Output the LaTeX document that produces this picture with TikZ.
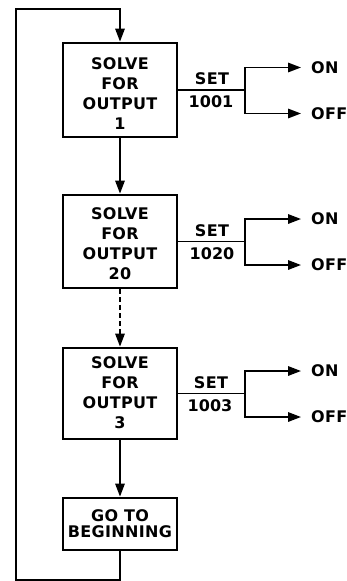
\documentclass[tikz,border=0pt]{standalone}
\usepackage{fontspec}
\setmainfont{DejaVu Sans Bold}[LetterSpace=2]
\newfontfamily\numfont{DejaVu Sans Bold}[LetterSpace=0]
\usetikzlibrary{arrows.meta}
\begin{document}
\begin{tikzpicture}[x=1pt,y=-1pt,
  every node/.style={font=\fontsize{16}{20}\selectfont},
  blockbox/.style={draw,line width=2.8pt,minimum width=114pt,inner sep=0pt},
  boxtext/.style={align=center,inner sep=0pt},
  conn/.style={line width=1.6pt},
  arr/.style={conn,-{Triangle[length=13pt,width=9.5pt]}},
  lbl/.style={inner sep=0pt},
  numlbl/.style={inner sep=0pt,font=\fontsize{16}{20}\numfont},
  outlbl/.style={lbl,anchor=west,inner xsep=10pt,inner ysep=0pt}
]
\useasboundingbox (0,0) rectangle (346,581);

% blocks
\node[blockbox,minimum height=94pt] (b1) at (120,90) {};
\node[blockbox,minimum height=93pt] (b2) at (120,241.5) {};
\node[blockbox,minimum height=91pt] (b3) at (120,393.5) {};
\node[blockbox,minimum height=52pt] (b4) at (120,524) {};

% block texts
\node[boxtext] (t1) at (120,94) {SOLVE\\FOR\\OUTPUT\\1};
\node[boxtext] (t2) at (120,244) {SOLVE\\FOR\\OUTPUT\\20};
\node[boxtext] (t3) at (120,392.5) {SOLVE\\FOR\\OUTPUT\\3};
\node[boxtext,font=\fontsize{16}{16.7}\selectfont] (t4) at (120,523.7) {GO TO\\BEGINNING};

% set labels
\node[lbl] (s1) at (212,79) {SET};
\node[numlbl] (n1) at (211,101.5) {1001};
\node[lbl] (s2) at (212,231) {SET};
\node[numlbl] (n2) at (212,253.5) {1020};
\node[lbl] (s3) at (211,383) {SET};
\node[numlbl] (n3) at (210,405.5) {1003};

% branch column
\coordinate (kx) at (245,0);

% outputs
\node[outlbl] (on1) at (301,67.5) {ON};
\node[outlbl] (off1) at (301,113.5) {OFF};
\node[outlbl] (on2) at (301,219) {ON};
\node[outlbl] (off2) at (301,265) {OFF};
\node[outlbl] (on3) at (301,371) {ON};
\node[outlbl] (off3) at (301,417) {OFF};

% set lines and branches
\foreach \i in {1,2,3}{
  \coordinate (k\i) at (b\i.east -| kx);
  \draw[conn] (b\i.east) -- (k\i);
  \draw[arr] (k\i) |- (on\i.west);
  \draw[arr] (k\i) |- (off\i.west);
}

% vertical flow
\draw[arr] (b1) -- (b2);
\draw[arr,dash pattern=on 5pt off 3pt] (b2) -- (b3);
\draw[arr] (b3) -- (b4);

% loop back
\coordinate (lb) at (16,580);
\coordinate (lt) at (16,9);
\draw[arr] (b4.south) -- (b4.south |- lb) -- (lb) -- (lt) -- (lt -| b1.north) -- (b1.north);
\end{tikzpicture}
\end{document}
